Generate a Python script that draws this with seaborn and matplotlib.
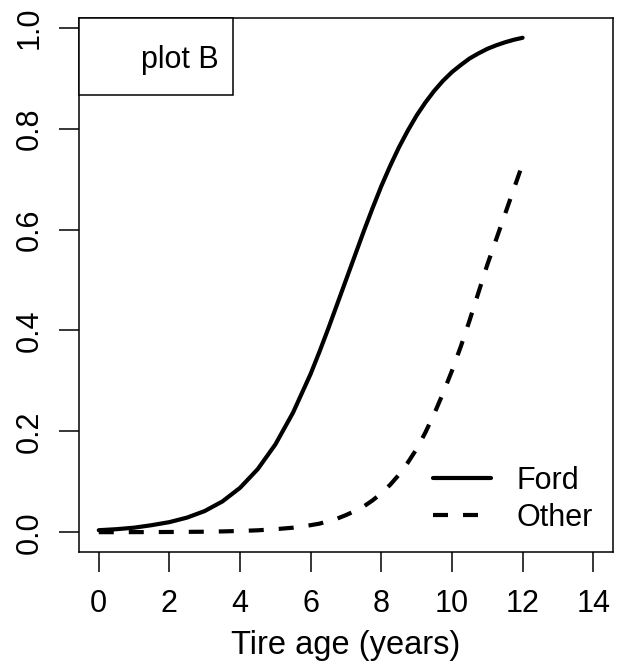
import numpy as np
import pandas as pd
import matplotlib
matplotlib.use("Agg")
import matplotlib.pyplot as plt
from matplotlib.patches import Rectangle
from matplotlib.lines import Line2D
import seaborn as sns

# values
tire_age = [0, 0.5, 1, 1.5, 2, 2.5, 3, 3.5, 4, 4.5, 5, 5.5, 6, 6.25, 6.5, 6.75,
            7, 7.25, 7.5, 7.75, 8, 8.25, 8.5, 8.75, 9, 9.25, 9.5, 9.75, 10,
            10.25, 10.5, 10.75, 11, 11.25, 11.5, 11.75, 12]
ford = [0.004, 0.006, 0.009, 0.014, 0.020, 0.029, 0.042, 0.061, 0.088, 0.125,
        0.174, 0.237, 0.314, 0.358, 0.404, 0.452, 0.500, 0.548, 0.596, 0.642,
        0.686, 0.726, 0.763, 0.796, 0.826, 0.852, 0.875, 0.895, 0.912, 0.926,
        0.939, 0.949, 0.958, 0.965, 0.971, 0.976, 0.980]
other = [0.0001, 0.0001, 0.0002, 0.0003, 0.0005, 0.0007, 0.001, 0.0016, 0.0025,
         0.0038, 0.006, 0.009, 0.014, 0.017, 0.022, 0.027, 0.034, 0.042, 0.051,
         0.063, 0.077, 0.094, 0.114, 0.138, 0.165, 0.198, 0.235, 0.276, 0.32,
         0.368, 0.42, 0.475, 0.53, 0.58, 0.63, 0.68, 0.73]
x_ticks = [0, 2, 4, 6, 8, 10, 12, 14]
y_ticks = [0.0, 0.2, 0.4, 0.6, 0.8, 1.0]

df = pd.DataFrame({"age": tire_age, "Ford": ford, "Other": other})

sns.set_style("white")
plt.rcParams['font.family'] = ['Liberation Sans', 'DejaVu Sans']
plt.rcParams['text.color'] = 'black'
plt.rcParams['axes.labelcolor'] = 'black'

fs = 22
fig = plt.figure(figsize=(6.24, 6.69), dpi=100)
ax = fig.add_axes([79 / 624, 1 - 552 / 669, 534 / 624, 534 / 669])

lw = 3.0
sns.lineplot(data=df, x="age", y="Ford", ax=ax, color="black", linewidth=lw)
sns.lineplot(data=df, x="age", y="Other", ax=ax, color="black", linewidth=lw)
ax.lines[-1].set_dashes([3.6, 3.6])

ax.set_xlim(-0.56, 14.56)
ax.set_ylim(-0.0392, 1.0192)
ax.set_xticks(x_ticks)
ax.set_xticklabels([str(t) for t in x_ticks])
ax.set_yticks(y_ticks)
ax.set_yticklabels([f"{t:.1f}" for t in y_ticks], rotation=90, va="center")
ax.tick_params(axis="both", direction="out", length=14.5, width=1.1,
               color="black", labelsize=fs, labelcolor="black",
               bottom=True, left=True)
ax.tick_params(axis="x", pad=12)
ax.tick_params(axis="y", pad=10)
for s in ax.spines.values():
    s.set_color("black")
    s.set_linewidth(1.1)
ax.set_xlabel("Tire age (years)", fontsize=23.5, labelpad=8)
ax.set_ylabel("")

# "plot B" box in the top-left corner
ax.add_patch(Rectangle((0, 1 - 77 / 534), 154 / 534, 77 / 534,
                       transform=ax.transAxes, facecolor="white",
                       edgecolor="black", linewidth=1.1, zorder=5,
                       clip_on=False))
ax.text(140 / 534, 1 - 42 / 534, "plot B", transform=ax.transAxes,
        ha="right", va="center", fontsize=fs, zorder=6)

handles = [Line2D([0], [0], color="black", linewidth=lw),
           Line2D([0], [0], color="black", linewidth=lw, dashes=[3.6, 3.6])]
ax.legend(handles, ["Ford", "Other"], loc="lower right",
          bbox_to_anchor=(1.014, -0.015), frameon=False, fontsize=fs,
          handlelength=1.9, handletextpad=0.85, labelspacing=0.22)

fig.savefig("out.png", dpi=100)
